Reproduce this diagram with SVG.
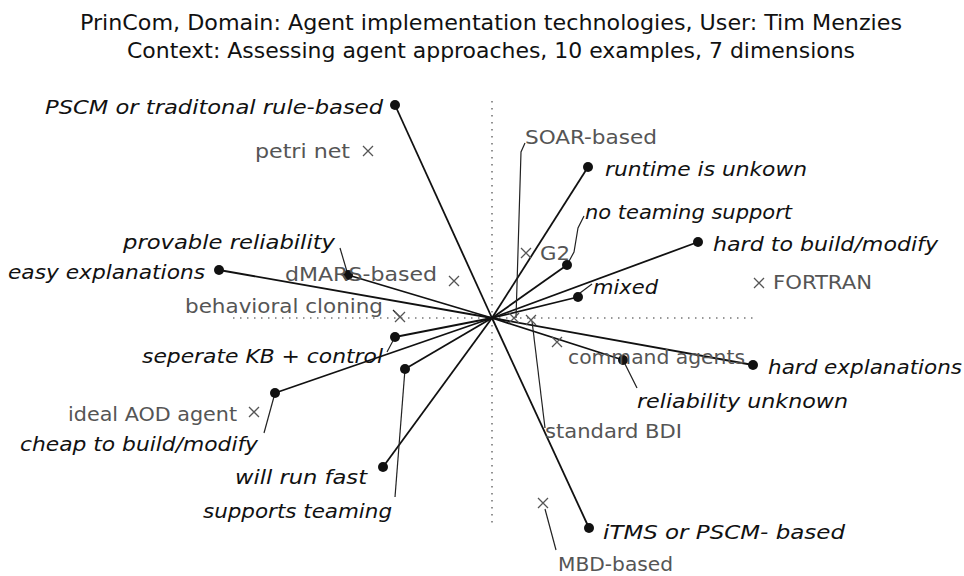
<svg xmlns="http://www.w3.org/2000/svg" width="964" height="576" viewBox="0 0 964 576">
<style>
.title{font-family:"DejaVu Sans Condensed","DejaVu Sans","Liberation Sans",sans-serif;font-size:21px;fill:#111}
.pole{font-family:"DejaVu Sans Condensed","DejaVu Sans","Liberation Sans",sans-serif;font-size:20px;font-style:italic;fill:#111}
.ex{font-family:"DejaVu Sans Condensed","DejaVu Sans","Liberation Sans",sans-serif;font-size:19px;fill:#555}
.axis{stroke:#777;stroke-width:1.6;stroke-dasharray:1.5 5.5;fill:none}
.dim{stroke:#111;stroke-width:1.8;fill:none}
.lead{stroke:#222;stroke-width:1.2;fill:none}
.dot{fill:#111}
.xm{stroke:#555;stroke-width:1.3;fill:none}
</style>
<defs>
<path id="x" class="xm" d="M-5,-5L5,5M-5,5L5,-5"/>
</defs>
<rect width="964" height="576" fill="#fff"/>
<g id="title">
<text class="title" x="80" y="30" textLength="822" lengthAdjust="spacingAndGlyphs">PrinCom, Domain: Agent implementation technologies, User: Tim  Menzies</text>
<text class="title" x="127" y="58" textLength="728" lengthAdjust="spacingAndGlyphs">Context: Assessing agent approaches, 10 examples, 7 dimensions</text>
</g>
<g id="axes">
<line class="axis" x1="492" y1="101" x2="492" y2="524"/>
<line class="axis" x1="233" y1="318" x2="758" y2="318"/>
</g>
<g id="connectors">
<line class="dim" x1="395" y1="105" x2="492" y2="318"/><line class="dim" x1="492" y1="318" x2="589" y2="528"/>
<line class="dim" x1="219" y1="270" x2="492" y2="318"/><line class="dim" x1="492" y1="318" x2="753" y2="365"/>
<line class="dim" x1="588" y1="167" x2="492" y2="318"/><line class="dim" x1="492" y1="318" x2="383" y2="467"/>
<line class="dim" x1="698" y1="242" x2="492" y2="318"/><line class="dim" x1="492" y1="318" x2="275" y2="393"/>
<line class="dim" x1="567" y1="265" x2="492" y2="318"/><line class="dim" x1="492" y1="318" x2="405" y2="369"/>
<line class="dim" x1="578" y1="297" x2="492" y2="318"/><line class="dim" x1="492" y1="318" x2="395" y2="337"/>
<line class="dim" x1="348" y1="275" x2="492" y2="318"/><line class="dim" x1="492" y1="318" x2="623" y2="360"/>
<polyline class="lead" points="340,248 348,275"/>
<polyline class="lead" points="584,216 578,228 574,252 567,265"/>
<polyline class="lead" points="525,143 521,152 516,318"/>
<polyline class="lead" points="580,293 592,284"/>
<polyline class="lead" points="532,321 545,428"/>
<polyline class="lead" points="545,509 556,550"/>
<polyline class="lead" points="623,360 637,388"/>
<polyline class="lead" points="387,352 395,337"/>
<polyline class="lead" points="264,433 275,393"/>
<polyline class="lead" points="395,497 405,369"/>
<polyline class="lead" points="393,310 400,317"/>
</g>
<g id="n-pscm"><circle class="dot" cx="395" cy="105" r="5"/><text class="pole" x="45" y="114" textLength="338" lengthAdjust="spacingAndGlyphs">PSCM or traditonal rule-based</text></g>
<g id="n-itms"><circle class="dot" cx="589" cy="528" r="5"/><text class="pole" x="603" y="539" textLength="242" lengthAdjust="spacingAndGlyphs">iTMS or PSCM- based</text></g>
<g id="n-easy"><circle class="dot" cx="219" cy="270" r="5"/><text class="pole" x="8" y="279" textLength="197" lengthAdjust="spacingAndGlyphs">easy explanations</text></g>
<g id="n-hardexp"><circle class="dot" cx="753" cy="365" r="5"/><text class="pole" x="768" y="374" textLength="194" lengthAdjust="spacingAndGlyphs">hard explanations</text></g>
<g id="n-runtime"><circle class="dot" cx="588" cy="167" r="5"/><text class="pole" x="605" y="176" textLength="202" lengthAdjust="spacingAndGlyphs">runtime is unkown</text></g>
<g id="n-fast"><circle class="dot" cx="383" cy="467" r="5"/><text class="pole" x="235" y="484" textLength="132" lengthAdjust="spacingAndGlyphs">will run fast</text></g>
<g id="n-hardbuild"><circle class="dot" cx="698" cy="242" r="5"/><text class="pole" x="713" y="251" textLength="225" lengthAdjust="spacingAndGlyphs">hard to build/modify</text></g>
<g id="n-cheap"><circle class="dot" cx="275" cy="393" r="5"/><text class="pole" x="20" y="451" textLength="238" lengthAdjust="spacingAndGlyphs">cheap to build/modify</text></g>
<g id="n-noteam"><circle class="dot" cx="567" cy="265" r="5"/><text class="pole" x="585" y="219" textLength="207" lengthAdjust="spacingAndGlyphs">no teaming support</text></g>
<g id="n-team"><circle class="dot" cx="405" cy="369" r="5"/><text class="pole" x="203" y="518" textLength="189" lengthAdjust="spacingAndGlyphs">supports teaming</text></g>
<g id="n-mixed"><circle class="dot" cx="578" cy="297" r="5"/><text class="pole" x="593" y="294" textLength="65" lengthAdjust="spacingAndGlyphs">mixed</text></g>
<g id="n-sepkb"><circle class="dot" cx="395" cy="337" r="5"/><text class="pole" x="142" y="363" textLength="241" lengthAdjust="spacingAndGlyphs">seperate KB + control</text></g>
<g id="n-provable"><circle class="dot" cx="348" cy="275" r="5"/><text class="pole" x="123" y="249" textLength="212" lengthAdjust="spacingAndGlyphs">provable reliability</text></g>
<g id="n-relunk"><circle class="dot" cx="623" cy="360" r="5"/><text class="pole" x="637" y="408" textLength="211" lengthAdjust="spacingAndGlyphs">reliability unknown</text></g>
<g id="e-petri"><use href="#x" x="368" y="151"/><text class="ex" x="255" y="158" textLength="95" lengthAdjust="spacingAndGlyphs">petri net</text></g>
<g id="e-dmars"><use href="#x" x="454" y="281"/><text class="ex" x="285" y="281" textLength="152" lengthAdjust="spacingAndGlyphs">dMARS-based</text></g>
<g id="e-behav"><use href="#x" x="400" y="317"/><text class="ex" x="185" y="313" textLength="198" lengthAdjust="spacingAndGlyphs">behavioral cloning</text></g>
<g id="e-ideal"><use href="#x" x="254" y="412"/><text class="ex" x="68" y="421" textLength="169" lengthAdjust="spacingAndGlyphs">ideal AOD agent</text></g>
<g id="e-soar"><use href="#x" x="514" y="318"/><text class="ex" x="525" y="144" textLength="132" lengthAdjust="spacingAndGlyphs">SOAR-based</text></g>
<g id="e-g2"><use href="#x" x="526" y="253"/><text class="ex" x="540" y="260" textLength="30" lengthAdjust="spacingAndGlyphs">G2</text></g>
<g id="e-fortran"><use href="#x" x="759" y="283"/><text class="ex" x="773" y="289" textLength="99" lengthAdjust="spacingAndGlyphs">FORTRAN</text></g>
<g id="e-command"><use href="#x" x="557" y="342"/><text class="ex" x="568" y="364" textLength="177" lengthAdjust="spacingAndGlyphs">command agents</text></g>
<g id="e-bdi"><use href="#x" x="531" y="320"/><text class="ex" x="545" y="438" textLength="137" lengthAdjust="spacingAndGlyphs">standard BDI</text></g>
<g id="e-mbd"><use href="#x" x="543" y="503"/><text class="ex" x="558" y="571" textLength="115" lengthAdjust="spacingAndGlyphs">MBD-based</text></g>
</svg>
